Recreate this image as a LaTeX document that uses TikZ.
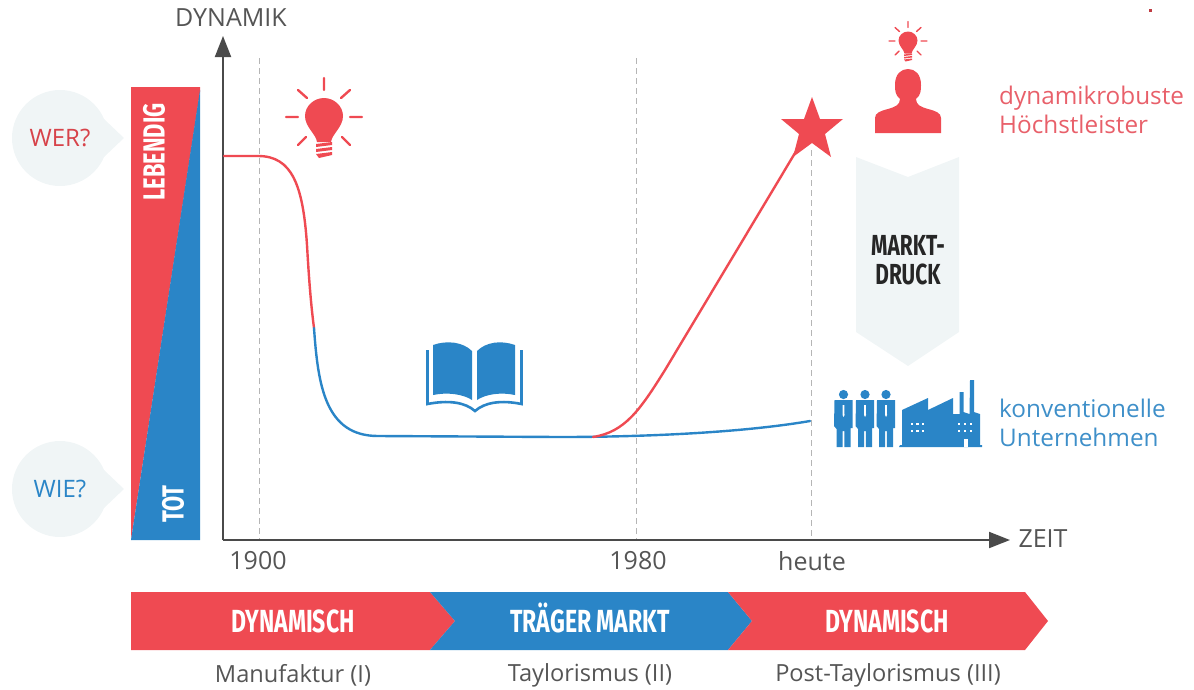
\documentclass[tikz,border=0pt]{standalone}
\usepackage{fontspec}
\setmainfont{Open Sans}
\newfontfamily\cond[FakeStretch=0.72]{Fira Sans}
\usetikzlibrary{arrows.meta}
\definecolor{rd}{HTML}{EF4A52}
\definecolor{bl}{HTML}{2A85C7}
\definecolor{pale}{HTML}{F0F5F6}
\definecolor{axisc}{HTML}{4A4A4A}
\definecolor{dashc}{HTML}{B5B5B5}
\definecolor{greytxt}{HTML}{555555}
\definecolor{rdt}{HTML}{E8606A}
\definecolor{blt}{HTML}{3E8FC9}
\tikzset{
  x=1pt,y=-1pt,
  lbl/.style={inner sep=0pt,font=\fontsize{25}{29}\selectfont,text=greytxt},
  sub/.style={lbl,font=\fontsize{23.6}{28}\selectfont},
  ctxt/.style={inner sep=0pt,font=\cond\bfseries\fontsize{32}{35}\selectfont,text=white,align=center},
  chev/.style={ctxt,anchor=base},
  vtxt/.style={ctxt,rotate=90,font=\cond\bfseries\fontsize{30.5}{33}\selectfont},
  side/.style={inner sep=0pt,anchor=base west,font=\fontsize{24.3}{29}\selectfont,align=left},
  axisl/.style={draw=axisc,line width=2pt,-{Triangle[length=21pt,width=16pt]}},
  guide/.style={draw=dashc,line width=1pt,dash pattern=on 6pt off 4pt},
  curve/.style={line width=2.4pt,line cap=round},
  bulb/.pic={
    \fill[rd] (-7,25) .. controls (-8,17) and (-19,10) .. (-19,-1)
      .. controls (-19,-11) and (-10,-19) .. (0,-19)
      .. controls (10,-19) and (19,-11) .. (19,-1)
      .. controls (19,10) and (8,17) .. (7,25) -- cycle;
    \fill[rd] (-8,27) -- (8,25) -- (8,28) -- (-8,30) -- cycle
      (-8,32) -- (8,30) -- (8,33) -- (-8,35) -- cycle
      (-8,37) -- (8,35) -- (8,38) -- (-5,41) -- cycle;
    \draw[rd,line width=#1,line cap=round]
      (0,-39) -- (0,-27) (-38,0) -- (-26,0) (26,0) -- (38,0)
      (-26,-27) -- (-17,-19) (26,-27) -- (17,-19)
      (-26,28) -- (-18,20) (26,28) -- (18,20);
  },
  man/.pic={
    \fill[bl] (0,-6.5) circle (4.6);
    \fill[bl] (-9,-1) -- (9,-1) -- (9,27) -- (7,27) -- (7,46) -- (0.8,46) -- (0.8,30)
      -- (-0.8,30) -- (-0.8,46) -- (-7,46) -- (-7,28) -- (-9.5,25) -- cycle;
    \fill[white] (-0.8,4) -- (0.8,4) -- (1,14) -- (0,16) -- (-1,14) -- cycle;
  },
}
\begin{document}
\begin{tikzpicture}
\useasboundingbox (0,0) rectangle (1194,689);
% speck
\fill[rd!80!black] (1148.5,8.5) rectangle (1151.5,11.5);
% bubbles
\fill[pale] (60,138) circle (48);
\fill[pale] (104,119) -- (124,138) -- (104,157) -- cycle;
\fill[pale] (60,489) circle (48);
\fill[pale] (104,470) -- (124,489) -- (104,508) -- cycle;
\node[lbl,font=\fontsize{24}{28}\selectfont,text=rd!90!black] (wer) at (60,138) {WER?};
\node[lbl,font=\fontsize{24}{28}\selectfont,text=bl] (wie) at (60,489) {WIE?};
% bar
\fill[rd] (131,87) -- (200,87) -- (200,92) -- (131,540) -- cycle;
\fill[bl] (200,90) -- (200,540) -- (131,540) -- cycle;
\node[vtxt] (leb) at (154,152) {LEBENDIG};
\node[vtxt] (tot) at (173,504) {TOT};
% guides
\coordinate (g1t) at (259,58); \coordinate (g1b) at (259,540);
\coordinate (g2t) at (636,58); \coordinate (g2b) at (636,540);
\coordinate (g3t) at (811,150); \coordinate (g3b) at (811,540);
\draw[guide] (g1t) -- (g1b);
\draw[guide] (g2t) -- (g2b);
\draw[guide] (g3t) -- (g3b);
% axes
\coordinate (o) at (223,540);
\coordinate (ytip) at (223,36);
\coordinate (xtip) at (1010,540);
\draw[axisl] (o) -- (ytip);
\draw[axisl] (o) -- (xtip);
\node[lbl] (dyn) at (231,18) {DYNAMIK};
\node[lbl] (zeit) at (1043,539) {ZEIT};
\node[lbl] (y1900) at (258,561) {1900};
\node[lbl] (y1980) at (638,561) {1980};
\node[lbl] (heute) at (812,561) {heute};
% curves
\coordinate (c0) at (224,156);
\coordinate (c1) at (314,328);
\coordinate (c2) at (593,437);
\coordinate (c3) at (810,128);
\coordinate (c4) at (810,421);
\draw[curve,rd] (c0) -- (258,156) .. controls (292,156) and (303,185) .. (307,245) .. controls (309,280) and (311,305) .. (c1);
\draw[curve,bl] (c1) .. controls (318,385) and (325,436) .. (378,436) -- (560,437)
  .. controls (640,437) and (740,433) .. (c4);
\draw[curve,rd] (c2) .. controls (625,432) and (640,410) .. (665,370) -- (c3);
% star
\fill[rd] (812,97) -- (820,119) -- (843,119) -- (825,134) -- (831,157) -- (812,143)
  -- (793,157) -- (799,134) -- (781,119) -- (804,119) -- cycle;
% bulbs
\pic at (324,117) {bulb=2.4pt};
\pic[scale=0.5] at (908,41) {bulb=1.4pt};
% person
\fill[rd] (875,133) -- (875,118) .. controls (875,113) and (880,111) .. (888,109)
  .. controls (895,107) and (900,105) .. (900,99)
  .. controls (895,95) and (895,90) .. (895,85)
  .. controls (895,74) and (901,69) .. (908,69)
  .. controls (915,69) and (921,74) .. (921,85)
  .. controls (921,90) and (921,95) .. (916,99)
  .. controls (916,105) and (921,107) .. (928,109)
  .. controls (936,111) and (941,113) .. (941,118) -- (941,133) -- cycle;
% Marktdruck
\fill[pale] (856,157) -- (908,177) -- (959,157) -- (959,332) -- (908,366) -- (856,332) -- cycle;
\node[ctxt,text=black!85,font=\cond\bfseries\fontsize{29}{29}\selectfont] (markt) at (908,260) {MARKT-\\DRUCK};
% side labels
\node[side,text=rdt] (top) at (999,133) {dynamikrobuste\\Höchstleister};
\node[side,text=blt] (bot) at (999,446) {konventionelle\\Unternehmen};
% book
\fill[bl] (433,345) .. controls (447,340) and (463,342) .. (472,351) -- (472,400)
  .. controls (463,394) and (447,392) .. (433,395) -- cycle;
\fill[bl] (515,345) .. controls (501,340) and (486,342) .. (477,351) -- (477,400)
  .. controls (486,394) and (501,392) .. (515,395) -- cycle;
\draw[bl,line width=2.6pt] (427.5,350) -- (427.5,404) .. controls (448,400) and (465,402) .. (475,411)
  .. controls (485,402) and (502,400) .. (521.5,404) -- (521.5,350);
% people
\pic at (843.5,401) {man};
\pic at (865,401) {man};
\pic at (886,401) {man};
% factory
\fill[bl] (899,447) -- (900,445) -- (902,445) -- (902,410) -- (928,398) -- (928,410) -- (953,398)
  -- (953,414) -- (959.5,414) -- (959.5,392) -- (963.5,392) -- (963.5,412) -- (969.5,414)
  -- (970,380) -- (974,380) -- (974,412) -- (980,414) -- (980,445) -- (982,445) -- (982,447) -- cycle;
\foreach \xx in {912,917.5,923}
  \foreach \yy in {424,431} \fill[white] (\xx-1.3,\yy-1.3) rectangle (\xx+1.3,\yy+1.3);
\foreach \xx in {959,965,971}
  \foreach \yy in {424,431} \fill[white] (\xx-1.3,\yy-1.3) rectangle (\xx+1.3,\yy+1.3);
\fill[white] (964,439) rectangle (968,447);
% chevrons
\fill[rd] (131,592) -- (430,592) -- (455,621) -- (430,650) -- (131,650) -- cycle;
\fill[bl] (430,592) -- (728,592) -- (752,621) -- (728,650) -- (430,650) -- (455,621) -- cycle;
\fill[rd] (728,592) -- (1025,592) -- (1048,621) -- (1025,650) -- (728,650) -- (752,621) -- cycle;
\node[chev] (d1) at (293,632) {DYNAMISCH};
\node[chev] (tm) at (590,632) {TRÄGER MARKT};
\node[chev] (d2) at (887,632) {DYNAMISCH};
\node[sub] (m) at (293,675) {Manufaktur (I)};
\node[sub] (t) at (590,675) {Taylorismus (II)};
\node[sub] (p) at (888,675) {Post-Taylorismus (III)};
\end{tikzpicture}
\end{document}
